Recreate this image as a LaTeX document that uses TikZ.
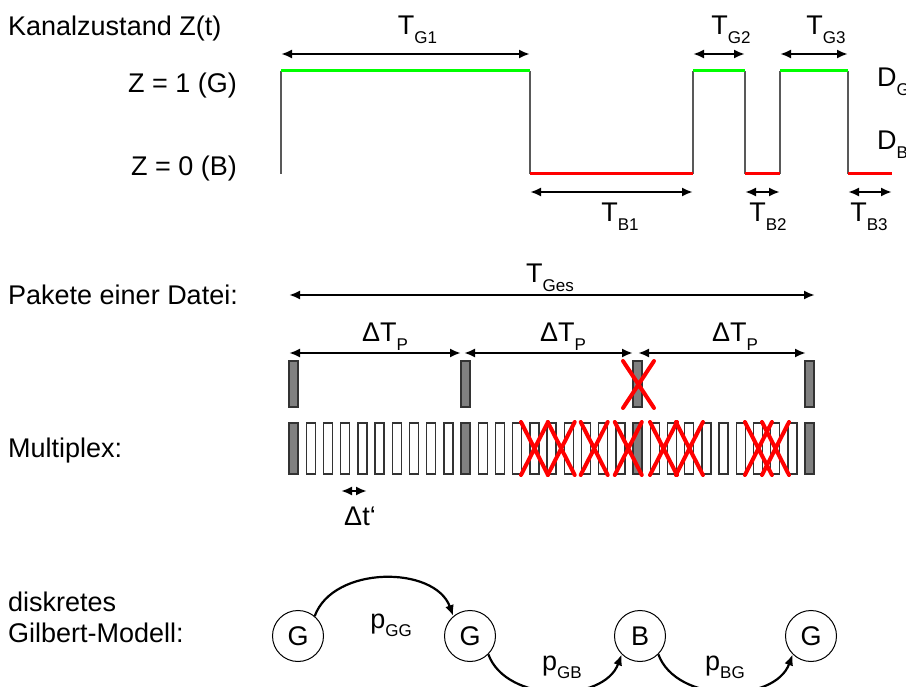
\documentclass[tikz,border=0pt]{standalone}
\usepackage{fontspec}
\setmainfont{Liberation Sans}
\usetikzlibrary{arrows.meta}
\newcommand\idx[1]{\raisebox{-0.3em}{\fontsize{17}{17}\selectfont #1}}
\begin{document}
\begin{tikzpicture}[x=1pt, y=-1pt, >={Latex[length=11pt,width=9pt]},
  txt/.style={font=\fontsize{27}{32}\selectfont, inner sep=0pt},
  dim/.style={<->, line width=2.2pt},
  flanke/.style={line width=1.4pt, black!65},
  gut/.style={line width=3pt, green},
  schlecht/.style={line width=3pt, red},
  slot/.style={draw=black!80, line width=1.4pt, fill=white},
  pkt/.style={draw=black!80, line width=1.4pt, fill=black!50},
  kreuz/.style={red, line width=4pt, line cap=round},
  state/.style={circle, draw, line width=1pt, minimum size=51pt, inner sep=0pt,
    font=\fontsize{27}{32}\selectfont},
  trans/.style={->, line width=2.2pt}]
\useasboundingbox (0,0) rectangle (906,687);
\clip (0,0) rectangle (906,687);
% Kanalzustand
\node[txt, anchor=base west] (kanal) at (8,36) {Kanalzustand Z(t)};
\node[txt, anchor=base east] (zg) at (237,93) {Z = 1 (G)};
\node[txt, anchor=base east] (zb) at (237,176) {Z = 0 (B)};
\foreach \x in {281,530,693,745,780,848}
  \draw[flanke] (\x,71)--(\x,174);
\draw[gut] (281,71)--(530,71) (693,71)--(745,71) (780,71)--(848,71);
\draw[schlecht] (530,174)--(693,174) (745,174)--(780,174) (848,174)--(892,174);
\foreach \a/\b/\l in {281/530/G1, 693/745/G2, 780/848/G3}{
  \draw[dim] (\a,54)--(\b,54);
  \node[txt, anchor=base] at ({(\a+\b)/2+12},35) {T\idx{\l}};
}
\foreach \a/\b/\c/\l in {530/693/620/B1, 745/780/768/B2, 848/892/869/B3}{
  \draw[dim] (\a,192)--(\b,192);
  \node[txt, anchor=base] at (\c,222) {T\idx{\l}};
}
\node[txt, anchor=base west] (dg) at (877,87) {D\idx{G}};
\node[txt, anchor=base west] (db) at (877,150) {D\idx{B}};
% Pakete
\node[txt, anchor=base west] (pakete) at (8,305) {Pakete einer Datei:};
\draw[dim] (289,295)--(815,295);
\node[txt, anchor=base] (tges) at (550,283) {T\idx{Ges}};
\foreach \a/\b/\c in {289/461/385, 464/633/563, 638/806/735}{
  \draw[dim] (\a,353)--(\b,353);
  \node[txt, anchor=base] at (\c,342) {ΔT\idx{P}};
}
\foreach \i in {0,...,3}
  \draw[pkt] ({289+172*\i},361) rectangle +(9,46);
\draw[kreuz] (623,361)--(654,408) (623,408)--(654,361);
% Multiplex
\node[txt, anchor=base west] (multiplex) at (8,457) {Multiplex:};
\foreach \i in {0,...,30}
  \draw[slot] ({289+17.2*\i},423) rectangle +(9,51);
\foreach \i in {0,10,20,30}
  \draw[pkt] ({289+17.2*\i},423) rectangle +(9,51);
\foreach \m in {534.5,561.2,594.2,628.3,663.5,689.4,758.4,775.5}
  \draw[kreuz] ({\m-13.5},422)--({\m+13.5},475) ({\m-13.5},475)--({\m+13.5},422);
\draw[dim] (341,491)--(367,491);
\node[txt, anchor=base] (dt) at (360,525) {Δt‘};
% Gilbert-Modell
\node[txt, anchor=base west] (diskret) at (8,611) {diskretes};
\node[txt, anchor=base west] (gilbert) at (8,642) {Gilbert-Modell:};
\node[state] (g1) at (298,636) {G};
\node[state] (g2) at (470,636) {G};
\node[state] (b) at (640,636) {B};
\node[state] (g3) at (811,636) {G};
\draw[trans] (g1.50) to[out=70,in=110] (g2.130);
\draw[trans] (g2.-45) to[out=-70,in=-110] (b.-135);
\draw[trans] (b.-45) to[out=-70,in=-110] (g3.-135);
\node[txt, anchor=base] at (391,628) {p\idx{GG}};
\node[txt, anchor=base] at (562,670) {p\idx{GB}};
\node[txt, anchor=base] at (725,670) {p\idx{BG}};
\end{tikzpicture}
\end{document}
